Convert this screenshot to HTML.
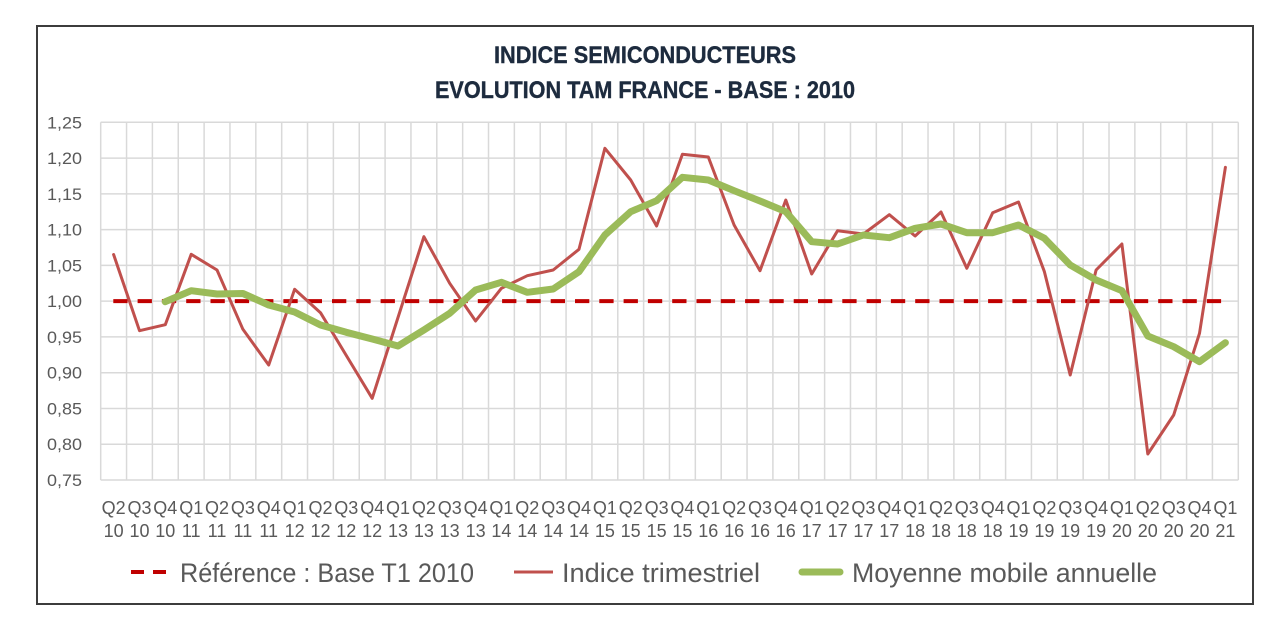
<!DOCTYPE html>
<html>
<head>
<meta charset="utf-8">
<style>
html,body{margin:0;padding:0;background:#fff;}
svg{display:block;}
text{font-family:"Liberation Sans",sans-serif;}
</style>
</head>
<body>
<svg width="1288" height="633" viewBox="0 0 1288 633" xmlns="http://www.w3.org/2000/svg">
<rect x="0" y="0" width="1288" height="633" fill="#fff"/>
<rect x="37" y="26" width="1216" height="578" fill="#fff" stroke="#3c3c3c" stroke-width="2"/>

<!-- Title -->
<text x="645" y="63" text-anchor="middle" font-size="24" font-weight="bold" fill="#1d2b3e" stroke="#1d2b3e" stroke-width="0.4" textLength="302" lengthAdjust="spacingAndGlyphs">INDICE SEMICONDUCTEURS</text>
<text x="645" y="98" text-anchor="middle" font-size="24" font-weight="bold" fill="#1d2b3e" stroke="#1d2b3e" stroke-width="0.4" textLength="420" lengthAdjust="spacingAndGlyphs">EVOLUTION TAM FRANCE - BASE : 2010</text>

<!-- Gridlines -->
<g stroke="#d9d9d9" stroke-width="1.5" fill="none">
<path d="M100.7 480H1238.3M100.7 444.23H1238.3M100.7 408.46H1238.3M100.7 372.69H1238.3M100.7 336.92H1238.3M100.7 301.15H1238.3M100.7 265.38H1238.3M100.7 229.61H1238.3M100.7 193.84H1238.3M100.7 158.07H1238.3M100.7 122.3H1238.3"/>
<path d="M100.7 122.3V480M126.55 122.3V480M152.4 122.3V480M178.26 122.3V480M204.12 122.3V480M229.97 122.3V480M255.82 122.3V480M281.68 122.3V480M307.53 122.3V480M333.39 122.3V480M359.24 122.3V480M385.09 122.3V480M410.95 122.3V480M436.8 122.3V480M462.66 122.3V480M488.51 122.3V480M514.36 122.3V480M540.22 122.3V480M566.07 122.3V480M591.93 122.3V480M617.78 122.3V480M643.63 122.3V480M669.49 122.3V480M695.34 122.3V480M721.2 122.3V480M747.05 122.3V480M772.9 122.3V480M798.76 122.3V480M824.61 122.3V480M850.47 122.3V480M876.32 122.3V480M902.17 122.3V480M928.03 122.3V480M953.88 122.3V480M979.74 122.3V480M1005.59 122.3V480M1031.44 122.3V480M1057.3 122.3V480M1083.15 122.3V480M1109.01 122.3V480M1134.86 122.3V480M1160.71 122.3V480M1186.57 122.3V480M1212.42 122.3V480M1238.3 122.3V480"/>
</g>

<!-- Y labels -->
<g font-size="17" fill="#595959" text-anchor="end">
<text x="82" y="128.3" textLength="35" lengthAdjust="spacingAndGlyphs">1,25</text>
<text x="82" y="164.07" textLength="35" lengthAdjust="spacingAndGlyphs">1,20</text>
<text x="82" y="199.84" textLength="35" lengthAdjust="spacingAndGlyphs">1,15</text>
<text x="82" y="235.61" textLength="35" lengthAdjust="spacingAndGlyphs">1,10</text>
<text x="82" y="271.38" textLength="35" lengthAdjust="spacingAndGlyphs">1,05</text>
<text x="82" y="307.15" textLength="35" lengthAdjust="spacingAndGlyphs">1,00</text>
<text x="82" y="342.92" textLength="35" lengthAdjust="spacingAndGlyphs">0,95</text>
<text x="82" y="378.69" textLength="35" lengthAdjust="spacingAndGlyphs">0,90</text>
<text x="82" y="414.46" textLength="35" lengthAdjust="spacingAndGlyphs">0,85</text>
<text x="82" y="450.23" textLength="35" lengthAdjust="spacingAndGlyphs">0,80</text>
<text x="82" y="486" textLength="35" lengthAdjust="spacingAndGlyphs">0,75</text>
</g>

<!-- X labels -->
<g font-size="18" fill="#595959" text-anchor="middle">
<text x="113.6" y="514">Q2</text><text x="113.6" y="537">10</text>
<text x="139.5" y="514">Q3</text><text x="139.5" y="537">10</text>
<text x="165.3" y="514">Q4</text><text x="165.3" y="537">10</text>
<text x="191.2" y="514">Q1</text><text x="191.2" y="537">11</text>
<text x="217.0" y="514">Q2</text><text x="217.0" y="537">11</text>
<text x="242.9" y="514">Q3</text><text x="242.9" y="537">11</text>
<text x="268.7" y="514">Q4</text><text x="268.7" y="537">11</text>
<text x="294.6" y="514">Q1</text><text x="294.6" y="537">12</text>
<text x="320.5" y="514">Q2</text><text x="320.5" y="537">12</text>
<text x="346.3" y="514">Q3</text><text x="346.3" y="537">12</text>
<text x="372.2" y="514">Q4</text><text x="372.2" y="537">12</text>
<text x="398.0" y="514">Q1</text><text x="398.0" y="537">13</text>
<text x="423.9" y="514">Q2</text><text x="423.9" y="537">13</text>
<text x="449.7" y="514">Q3</text><text x="449.7" y="537">13</text>
<text x="475.6" y="514">Q4</text><text x="475.6" y="537">13</text>
<text x="501.4" y="514">Q1</text><text x="501.4" y="537">14</text>
<text x="527.3" y="514">Q2</text><text x="527.3" y="537">14</text>
<text x="553.2" y="514">Q3</text><text x="553.2" y="537">14</text>
<text x="579.0" y="514">Q4</text><text x="579.0" y="537">14</text>
<text x="604.9" y="514">Q1</text><text x="604.9" y="537">15</text>
<text x="630.7" y="514">Q2</text><text x="630.7" y="537">15</text>
<text x="656.6" y="514">Q3</text><text x="656.6" y="537">15</text>
<text x="682.4" y="514">Q4</text><text x="682.4" y="537">15</text>
<text x="708.3" y="514">Q1</text><text x="708.3" y="537">16</text>
<text x="734.1" y="514">Q2</text><text x="734.1" y="537">16</text>
<text x="760.0" y="514">Q3</text><text x="760.0" y="537">16</text>
<text x="785.8" y="514">Q4</text><text x="785.8" y="537">16</text>
<text x="811.7" y="514">Q1</text><text x="811.7" y="537">17</text>
<text x="837.6" y="514">Q2</text><text x="837.6" y="537">17</text>
<text x="863.4" y="514">Q3</text><text x="863.4" y="537">17</text>
<text x="889.3" y="514">Q4</text><text x="889.3" y="537">17</text>
<text x="915.1" y="514">Q1</text><text x="915.1" y="537">18</text>
<text x="941.0" y="514">Q2</text><text x="941.0" y="537">18</text>
<text x="966.8" y="514">Q3</text><text x="966.8" y="537">18</text>
<text x="992.7" y="514">Q4</text><text x="992.7" y="537">18</text>
<text x="1018.5" y="514">Q1</text><text x="1018.5" y="537">19</text>
<text x="1044.4" y="514">Q2</text><text x="1044.4" y="537">19</text>
<text x="1070.2" y="514">Q3</text><text x="1070.2" y="537">19</text>
<text x="1096.1" y="514">Q4</text><text x="1096.1" y="537">19</text>
<text x="1121.9" y="514">Q1</text><text x="1121.9" y="537">20</text>
<text x="1147.8" y="514">Q2</text><text x="1147.8" y="537">20</text>
<text x="1173.7" y="514">Q3</text><text x="1173.7" y="537">20</text>
<text x="1199.5" y="514">Q4</text><text x="1199.5" y="537">20</text>
<text x="1225.4" y="514">Q1</text><text x="1225.4" y="537">21</text>
</g>

<!-- Reference dashed line -->
<line x1="113.3" y1="301.15" x2="1225.4" y2="301.15" stroke="#c00000" stroke-width="4" stroke-dasharray="14.3 10"/>

<!-- Indice trimestriel -->
<polyline fill="none" stroke="#c0504d" stroke-width="3" stroke-linejoin="round" stroke-linecap="round"
points="113.6,254.5 139.5,330.7 165.3,324.7 191.2,254.3 217.0,270 242.9,329.3 268.7,365 294.6,289.3 320.5,312.7 346.3,355.5 372.2,398.3 398.0,317.5 423.9,236.7 449.7,283.3 475.6,321 501.4,288.3 527.3,275.7 553.2,270 579.0,249.3 604.9,148.3 630.7,180 656.6,226 682.4,154.3 708.3,157 734.1,225 760.0,270.7 785.8,200 811.7,274 837.6,230.7 863.4,234 889.3,214.7 915.1,236 941.0,212 966.8,268.3 992.7,212.7 1018.5,202 1044.4,271.7 1070.2,375 1096.1,270 1121.9,244 1147.8,454 1173.7,415 1199.5,333.3 1225.4,167.3"/>

<!-- Moyenne mobile annuelle -->
<polyline fill="none" stroke="#9bbb59" stroke-width="7" stroke-linejoin="round" stroke-linecap="round"
points="165.3,301.7 191.2,290.7 217.0,294 242.9,293.5 268.7,305 294.6,312 320.5,325 346.3,332.3 372.2,339 398.0,346 423.9,330 449.7,313.3 475.6,290 501.4,282.3 527.3,292.3 553.2,289 579.0,271.7 604.9,235 630.7,211.7 656.6,200.7 682.4,177.3 708.3,180 734.1,190.7 760.0,201 785.8,211.7 811.7,241.7 837.6,244 863.4,235 889.3,237.7 915.1,228.3 941.0,224 966.8,232.7 992.7,232.7 1018.5,225 1044.4,238.3 1070.2,265 1096.1,280 1121.9,290.7 1147.8,336 1173.7,346.7 1199.5,361.7 1225.4,342.7"/>

<!-- Legend -->
<line x1="131" y1="572" x2="166" y2="572" stroke="#c00000" stroke-width="4" stroke-dasharray="13 9"/>
<text x="180" y="582" font-size="27" fill="#595959" textLength="294" lengthAdjust="spacingAndGlyphs">Référence : Base T1 2010</text>
<line x1="514" y1="572" x2="553" y2="572" stroke="#c0504d" stroke-width="3"/>
<text x="562" y="582" font-size="27" fill="#595959" textLength="198" lengthAdjust="spacingAndGlyphs">Indice trimestriel</text>
<line x1="802" y1="572" x2="840" y2="572" stroke="#9bbb59" stroke-width="7" stroke-linecap="round"/>
<text x="852" y="582" font-size="27" fill="#595959" textLength="305" lengthAdjust="spacingAndGlyphs">Moyenne mobile annuelle</text>
</svg>
</body>
</html>
